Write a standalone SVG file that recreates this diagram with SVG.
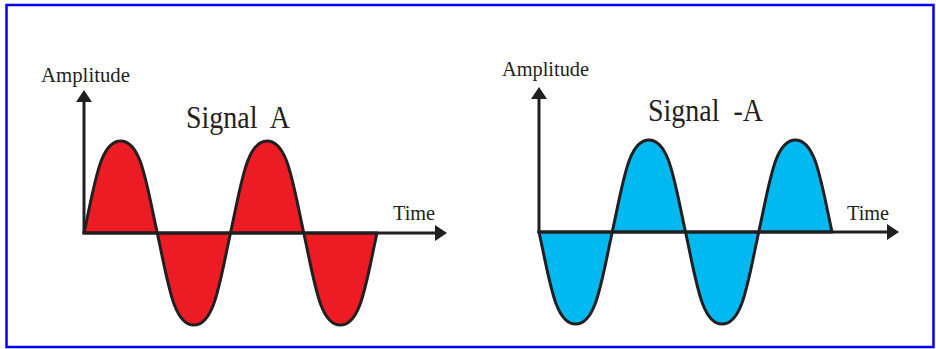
<svg xmlns="http://www.w3.org/2000/svg" width="936" height="349" viewBox="0 0 936 349">
<style>
.frame{fill:#fff;stroke:#0000ee;stroke-width:2.5}
.lbl{font-family:"Liberation Serif","Times New Roman",serif;fill:#231f20}
.axis{stroke:#231f20;stroke-width:3;fill:none}
.wave{stroke:#231f20;stroke-width:3;stroke-linejoin:round}
.red{fill:#ed1c24}
.blue{fill:#00b9f1}
</style>
<defs>
<marker id="arr" viewBox="0 0 12 16" refX="0" refY="8" markerWidth="12" markerHeight="16" markerUnits="userSpaceOnUse" orient="auto">
<path d="M0,0 L12,8 L0,16 Z" fill="#231f20"/>
</marker>
</defs>
<rect class="frame" x="6.5" y="5" width="927" height="342"/>
<g id="waveA">
<path class="wave red" d="M84,233 c11,-50 16,-92 36.625,-92 c20.625,0 25.625,42 36.625,92 c11,50 16,92 36.625,92 c20.625,0 25.625,-42 36.625,-92 c11,-50 16,-92 36.625,-92 c20.625,0 25.625,42 36.625,92 c11,50 16,92 36.625,92 c20.625,0 25.625,-42 36.625,-92 Z"/>
</g>
<g id="waveNegA">
<path class="wave blue" d="M539,232 c11,50 16,92 36.625,92 c20.625,0 25.625,-42 36.625,-92 c11,-50 16,-92 36.625,-92 c20.625,0 25.625,42 36.625,92 c11,50 16,92 36.625,92 c20.625,0 25.625,-42 36.625,-92 c11,-50 16,-92 36.625,-92 c20.625,0 25.625,42 36.625,92 Z"/>
</g>
<g id="connectors">
<line class="axis" x1="84" y1="234" x2="84" y2="102" marker-end="url(#arr)"/>
<line class="axis" x1="82.5" y1="233" x2="435" y2="233" marker-end="url(#arr)"/>
<line class="axis" x1="539" y1="233" x2="539" y2="99" marker-end="url(#arr)"/>
<line class="axis" x1="537.5" y1="232" x2="887" y2="232" marker-end="url(#arr)"/>
</g>
<g id="labelsA">
<text class="lbl" x="41" y="82" font-size="22" textLength="89" lengthAdjust="spacingAndGlyphs">Amplitude</text>
<text class="lbl" x="186" y="128" font-size="31" textLength="104" lengthAdjust="spacingAndGlyphs" style="white-space:pre">Signal  A</text>
<text class="lbl" x="393" y="220" font-size="21" textLength="42" lengthAdjust="spacingAndGlyphs">Time</text>
</g>
<g id="labelsNegA">
<text class="lbl" x="502" y="76" font-size="22" textLength="87" lengthAdjust="spacingAndGlyphs">Amplitude</text>
<text class="lbl" x="648" y="121" font-size="31" textLength="115" lengthAdjust="spacingAndGlyphs" style="white-space:pre">Signal  -A</text>
<text class="lbl" x="847" y="220" font-size="21" textLength="42" lengthAdjust="spacingAndGlyphs">Time</text>
</g>
</svg>
